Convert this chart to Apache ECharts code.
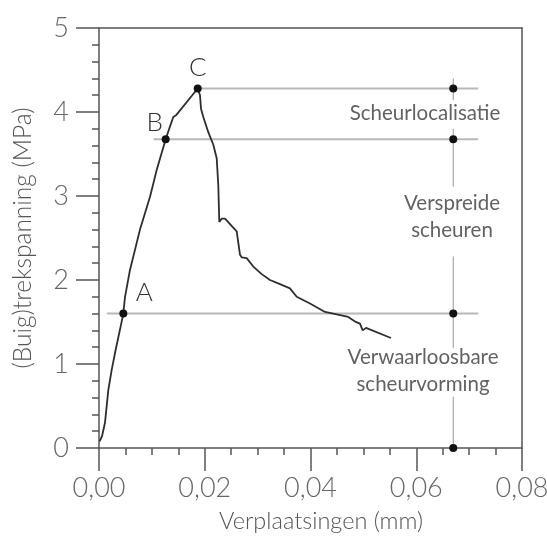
<!DOCTYPE html>
<html><head><meta charset="utf-8">
<script src="https://cdn.jsdelivr.net/npm/echarts@6/dist/echarts.min.js"></script>
<style>html,body{margin:0;padding:0;background:#fff}#c{width:547px;height:537px}</style>
</head><body><div id="c"></div>
<script>
// Main load-displacement curve
const curveX = [0.0001,0.00057,0.00081,0.00113,0.00176,0.0024,0.00322,0.00397,0.0046,0.00492,0.00586,0.00775,0.00965,0.01091,0.01261,0.01405,0.01456,0.01867,0.0191,0.01929,0.01973,0.02005,0.02067,0.02162,0.02226,0.02256,0.02275,0.0232,0.02383,0.02604,0.02667,0.02699,0.02793,0.02918,0.03077,0.03234,0.03423,0.03612,0.03739,0.0399,0.04274,0.04496,0.04715,0.04842,0.04936,0.04987,0.0505,0.05522];
const curveY = [0.08,0.14,0.16,0.30,0.69,0.93,1.19,1.41,1.60,1.80,2.12,2.60,2.99,3.31,3.677,3.94,3.96,4.28,4.20,4.04,3.94,3.93,3.76,3.61,3.45,3.13,2.69,2.73,2.73,2.58,2.30,2.27,2.26,2.16,2.07,2.00,1.95,1.90,1.80,1.72,1.62,1.59,1.56,1.505,1.48,1.40,1.43,1.31];
// Marked points A, B, C
const pointNames = ['A','B','C'];
const pointX = [0.0046, 0.01261, 0.01867];
const pointY = [1.60, 3.677, 4.28];
// Horizontal reference lines (from point to marker column)
const refLevels = [1.60, 3.677, 4.28];
const refStartX = [0.0015, 0.0103, 0.0179];
const refEndX = 0.0717;
// Marker column
const markerX = 0.067;
const markerY = [4.28, 3.677, 1.60, 0];
const vSegments = [[4.40, 4.14], [3.80, 3.11], [2.28, 1.19], [0.61, 0]];
// Annotations
const notes = ['Scheurlocalisatie', 'Verspreide\nscheuren', 'Verwaarloosbare\nscheurvorming'];
const noteX = [0.06166, 0.06676, 0.06128];
const noteY = [3.98, 2.753, 0.922];
// Axes
const xTicks = {min: 0, max: 0.08, step: 0.02};
const yTicks = {min: 0, max: 5, step: 1};
const xName = 'Verplaatsingen (mm)';
const yName = '(Buig)trekspanning (MPa)';

const FONT = 'Lato, "DejaVu Sans", sans-serif';
const AX = '#555';
const chart = echarts.init(document.getElementById('c'), null, {renderer: 'canvas'});
const series = [];
refLevels.forEach((lv, i) => series.push({type: 'line', data: [[refStartX[i], lv], [refEndX, lv]], symbol: 'none', lineStyle: {color: '#b8b8b8', width: 2}, z: 1, silent: true}));
vSegments.forEach(s => series.push({type: 'line', data: [[markerX, s[0]], [markerX, s[1]]], symbol: 'none', lineStyle: {color: '#999', width: 1}, z: 1, silent: true}));
series.push({type: 'line', data: curveX.map((x, i) => [x, curveY[i]]), symbol: 'none', lineStyle: {color: '#2e2e2e', width: 1.8}, z: 2});
const labelOffsets = [[21, -21], [-11, -17], [0, -21]];
series.push({type: 'scatter', data: pointX.map((x, i) => ({value: [x, pointY[i]], label: {show: true, formatter: pointNames[i], offset: labelOffsets[i]}})), symbolSize: 8, itemStyle: {color: '#111', opacity: 1}, label: {position: 'inside', fontSize: 26, fontWeight: 300, color: '#333', fontFamily: FONT}, z: 3});
series.push({type: 'scatter', data: markerY.map(y => [markerX, y]), symbolSize: 8, itemStyle: {color: '#111', opacity: 1}, z: 3});
series.push({type: 'scatter', data: noteX.map((x, i) => [x, noteY[i]]), symbolSize: 1, itemStyle: {color: 'rgba(0,0,0,0)'}, label: {show: true, position: 'inside', formatter: p => notes[p.dataIndex], fontSize: 20.5, lineHeight: 27, color: '#3a3a3a', fontFamily: FONT}, z: 4, silent: true});

const lineSt = {color: AX, width: 1.5};
chart.setOption({
  animation: false,
  backgroundColor: '#fff',
  grid: {left: 99, top: 28, right: 25, bottom: 89, outerBoundsMode: 'none'},
  xAxis: [{
    type: 'value', min: xTicks.min, max: xTicks.max, interval: xTicks.step, position: 'bottom',
    axisLine: {show: true, onZero: false, lineStyle: lineSt},
    axisTick: {show: true, length: 23, lineStyle: lineSt},
    minorTick: {show: true, splitNumber: 4, length: 7, lineStyle: lineSt},
    splitLine: {show: false}, minorSplitLine: {show: false},
    axisLabel: {formatter: v => v.toFixed(2).replace('.', ','), margin: 27, fontSize: 27, fontWeight: 300, color: '#666', fontFamily: FONT},
    name: xName, nameLocation: 'middle', nameGap: 61,
    nameTextStyle: {fontSize: 23.5, fontWeight: 300, color: '#555', fontFamily: FONT, padding: [0, 0, 0, 21]}
  }, {
    type: 'value', min: xTicks.min, max: xTicks.max, position: 'top',
    axisLine: {show: true, onZero: false, lineStyle: lineSt},
    axisTick: {show: false}, axisLabel: {show: false}, splitLine: {show: false}
  }],
  yAxis: [{
    type: 'value', min: yTicks.min, max: yTicks.max, interval: yTicks.step, position: 'left',
    axisLine: {show: true, onZero: false, lineStyle: lineSt},
    axisTick: {show: true, length: 23, lineStyle: lineSt},
    minorTick: {show: true, splitNumber: 5, length: 7, lineStyle: lineSt},
    splitLine: {show: false}, minorSplitLine: {show: false},
    axisLabel: {margin: 30, fontSize: 27, fontWeight: 300, color: '#666', fontFamily: FONT},
    name: yName, nameLocation: 'middle', nameGap: 63,
    nameTextStyle: {fontSize: 24.5, fontWeight: 300, color: '#555', fontFamily: FONT}
  }, {
    type: 'value', min: yTicks.min, max: yTicks.max, position: 'right',
    axisLine: {show: true, onZero: false, lineStyle: lineSt},
    axisTick: {show: false}, axisLabel: {show: false}, splitLine: {show: false}
  }],
  series: series
});
</script></body></html>
